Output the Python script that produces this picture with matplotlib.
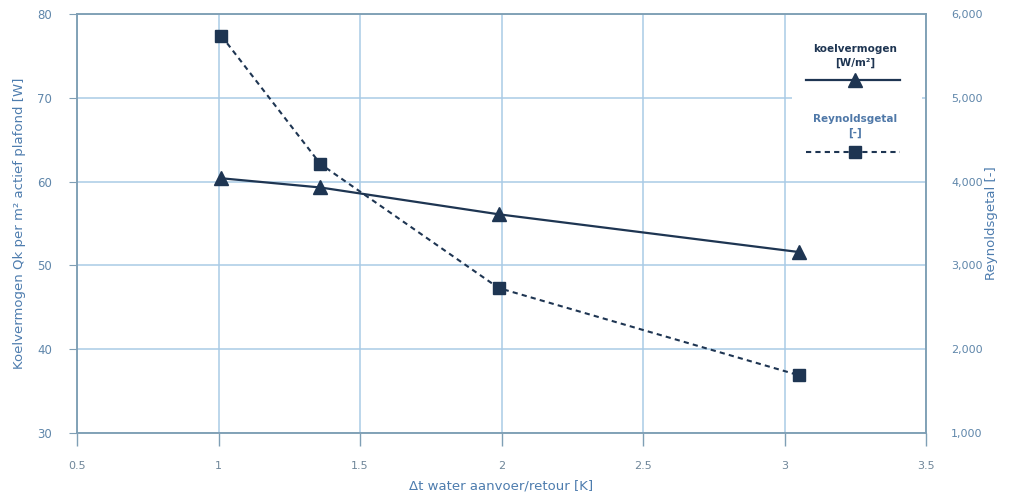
import numpy as np
import matplotlib.pyplot as plt
from matplotlib.lines import Line2D
from matplotlib.patches import Rectangle

# delta T water supply/return [K]
dt = [1.01, 1.36, 1.99, 3.05]
# cooling capacity per m2 active ceiling [W]
koelvermogen = [60.4, 59.3, 56.1, 51.6]
# Reynolds number [-]
reynolds = [5740, 4210, 2730, 1690]

x_ticks = [0.5, 1, 1.5, 2, 2.5, 3, 3.5]
x_labels = ["0.5", "1", "1.5", "2", "2.5", "3", "3.5"]
left_ticks = [30, 40, 50, 60, 70, 80]
right_ticks = [1000, 2000, 3000, 4000, 5000, 6000]

navy = "#1e3552"
grid_c = "#a9cbe6"
spine_c = "#7f9fb5"
label_c = "#4d7cae"
tick_c = "#6f8699"

fig = plt.figure(figsize=(10.11, 5.01), dpi=100)
ax = fig.add_axes([0.0762, 0.1357, 0.8398, 0.8363])
ax2 = ax.twinx()

ax.set_xlim(0.5, 3.5)
ax.set_ylim(30, 80)
ax2.set_ylim(1000, 6000)

ax.set_xticks(x_ticks)
ax.set_xticklabels(x_labels)
ax.set_yticks(left_ticks)
ax2.set_yticks(right_ticks)
ax2.set_yticklabels([f"{v:,}" for v in right_ticks])

ax.grid(True, color=grid_c, linewidth=1.1)
ax.set_axisbelow(True)

for a in (ax, ax2):
    for s in a.spines.values():
        s.set_color(spine_c)
        s.set_linewidth(1.1)

ax.tick_params(axis="x", colors=spine_c, labelcolor=tick_c, labelsize=8,
               length=9, width=1, pad=11, direction="out")
ax.tick_params(axis="y", colors=spine_c, labelcolor="#5f86aa", labelsize=8.5,
               length=6, pad=12)
ax2.tick_params(axis="y", colors=spine_c, labelcolor="#5f86aa", labelsize=8,
                length=0, pad=18)

ax.plot(dt, koelvermogen, color=navy, linewidth=1.6, marker="^",
        markersize=10, zorder=4)
ax2.plot(dt, reynolds, color=navy, linewidth=1.5, linestyle=(0, (2.5, 2)),
         marker="s", markersize=9, zorder=4)

ax.set_xlabel("Δt water aanvoer/retour [K]", color=label_c, fontsize=9.5,
              labelpad=6)
ax.set_ylabel("Koelvermogen Qk per m² actief plafond [W]", color=label_c,
              fontsize=9.5, labelpad=8)
ax2.set_ylabel("Reynoldsgetal [-]", color=label_c, fontsize=9.5, labelpad=2)

# legend block with captions above the handles
ax2.add_patch(Rectangle((0.842, 0.64), 0.153, 0.33, transform=ax2.transAxes,
                        facecolor="white", edgecolor="none", zorder=5))
leg_x = 0.916
ax2.text(leg_x, 0.90, "koelvermogen\n[W/m²]", transform=ax2.transAxes,
         ha="center", va="center", fontsize=7.5, fontweight="bold",
         color=navy, linespacing=1.4, zorder=6)
ax2.add_line(Line2D([0.859, 0.969], [0.842, 0.842], transform=ax2.transAxes,
                    color=navy, linewidth=1.6, zorder=6))
ax2.add_line(Line2D([leg_x], [0.842], transform=ax2.transAxes, color=navy,
                    marker="^", markersize=10, zorder=7))
ax2.text(leg_x, 0.733, "Reynoldsgetal\n[-]", transform=ax2.transAxes,
         ha="center", va="center", fontsize=7.5, fontweight="bold",
         color="#4f78a8", linespacing=1.4, zorder=6)
ax2.add_line(Line2D([0.859, 0.969], [0.671, 0.671], transform=ax2.transAxes,
                    color=navy, linewidth=1.5, linestyle=(0, (2.5, 2)),
                    zorder=6))
ax2.add_line(Line2D([leg_x], [0.671], transform=ax2.transAxes, color=navy,
                    marker="s", markersize=9, zorder=7))

fig.savefig("out.png", dpi=100)
